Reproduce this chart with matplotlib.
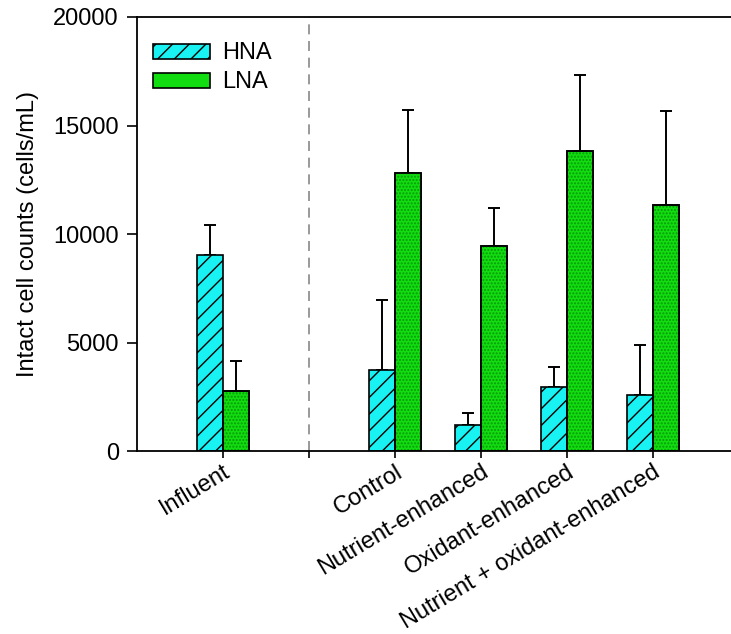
import numpy as np
import matplotlib.pyplot as plt

plt.rcParams['font.family'] = ['Liberation Sans', 'DejaVu Sans']

# groups: index 1 is an empty slot where the dashed separator sits
groups = ['Influent', '', 'Control', 'Nutrient-enhanced',
          'Oxidant-enhanced', 'Nutrient + oxidant-enhanced']
bar_pos = [0, 2, 3, 4, 5]
hna = [9030, 3730, 1200, 2965, 2595]
hna_err = [1400, 3230, 565, 920, 2275]
lna = [2780, 12800, 9460, 13825, 11340]
lna_err = [1370, 2910, 1740, 3505, 4340]

w = 0.3
x = np.array(bar_pos)

fig = plt.figure(figsize=(7.31, 6.34), dpi=100)
ax = fig.add_axes([0.1874, 0.2886, 0.8126, 0.6846])

ax.bar(x - w/2, hna, w, color='#18f2f2', edgecolor='black', linewidth=1.2,
       hatch='//', label='HNA', zorder=2)
ax.bar(x + w/2, lna, w, color='#11dd11', edgecolor='black', linewidth=1.2,
       label='LNA', zorder=2)
# fine dot texture on green bars
ax.bar(x + w/2, lna, w, color='none', edgecolor='#0a9a0a', linewidth=0,
       hatch='.....', zorder=2)
ax.bar(x + w/2, lna, w, color='none', edgecolor='black', linewidth=1.2, zorder=2)

# one-sided error bars
ax.errorbar(x - w/2, hna, yerr=[np.zeros(len(hna)), hna_err], fmt='none',
            ecolor='black', elinewidth=1.4, capsize=4.5, capthick=1.4, zorder=1)
ax.errorbar(x + w/2, lna, yerr=[np.zeros(len(lna)), lna_err], fmt='none',
            ecolor='black', elinewidth=1.4, capsize=4.5, capthick=1.4, zorder=1)

ax.axvline(1, color='#888888', linestyle=(0, (6, 4)), linewidth=1.2, zorder=0)

ax.set_xlim(-1, 5.91)
ax.set_ylim(0, 20000)
ax.set_yticks([0, 5000, 10000, 15000, 20000])
ax.set_xticks(range(len(groups)))
ax.set_xticklabels(groups, rotation=31, ha='right', rotation_mode='anchor')
ax.tick_params(axis='both', direction='out', labelsize=17, width=1.2)
ax.tick_params(axis='y', length=7, pad=6)
ax.tick_params(axis='x', length=5, pad=2)
ax.set_ylabel('Intact cell counts (cells/mL)', fontsize=17, labelpad=10)

for s in ['left', 'bottom', 'top']:
    ax.spines[s].set_linewidth(1.3)
ax.spines['right'].set_visible(False)

ax.legend(loc='upper left', frameon=False, fontsize=17, handlelength=2.4,
          handleheight=0.6, handletextpad=0.55, borderaxespad=0.4,
          labelspacing=0.3, bbox_to_anchor=(-0.005, 0.985))

fig.savefig('out.png', dpi=100)
